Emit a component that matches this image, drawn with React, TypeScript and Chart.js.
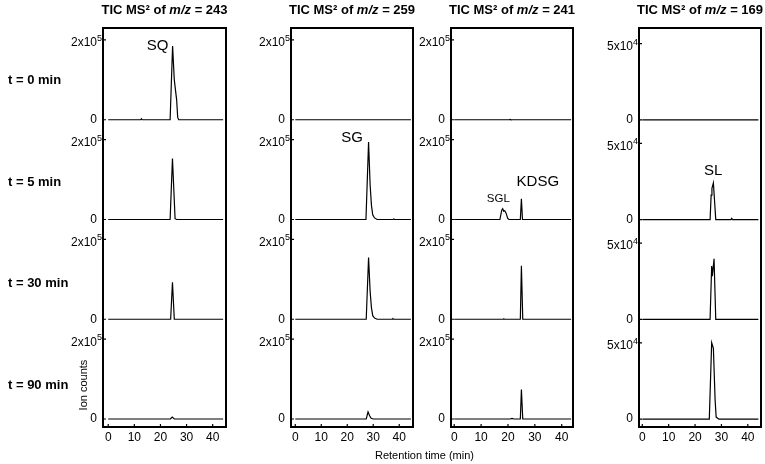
import React, { useEffect, useRef } from 'react';
import { Chart, registerables } from 'chart.js';

Chart.register(...registerables);

const FONT = '"Liberation Sans", Arial, "DejaVu Sans", sans-serif';

// ---- labels ----
const rowLabels = ['t = 0 min', 't = 5 min', 't = 30 min', 't = 90 min'];
const mzValues = ['243', '259', '241', '169'];
const xTicks = [0, 10, 20, 30, 40];
const yTopValues = [200000, 200000, 200000, 50000];
const yTopBases = ['2x10', '2x10', '2x10', '5x10'];
const yTopExps = ['5', '5', '5', '4'];

// ---- m/z 243 (SQ) ----
const t243_0 = [0, 12.4, 12.7, 13.0, 23.7, 24.65, 25.3, 26.2, 26.6, 27.0, 44];
const i243_0 = [0, 0, 2500, 0, 0, 185000, 100000, 50000, 6000, 0, 0];
const t243_1 = [0, 23.7, 24.6, 25.6, 26.2, 44];
const i243_1 = [0, 0, 153000, 2000, 0, 0];
const t243_2 = [0, 23.9, 24.6, 25.3, 44];
const i243_2 = [0, 0, 93000, 0, 0];
const t243_3 = [0, 23.8, 24.5, 25.3, 44];
const i243_3 = [0, 0, 5000, 0, 0];

// ---- m/z 259 (SG) ----
const t259_0 = [0, 44.5];
const i259_0 = [0, 0];
const t259_1 = [0, 27.2, 28.2, 28.8, 29.3, 29.8, 30.5, 31.5, 37.6, 37.9, 38.2, 44.5];
const i259_1 = [0, 0, 194000, 87000, 36000, 12000, 4000, 0, 0, 1500, 0, 0];
const t259_2 = [0, 27.3, 28.2, 28.8, 29.3, 29.8, 30.5, 31.5, 37.3, 37.6, 37.9, 44.5];
const i259_2 = [0, 0, 155000, 70000, 29000, 9000, 3000, 0, 0, 1500, 0, 0];
const t259_3 = [0, 27.3, 28.0, 28.6, 29.2, 30.0, 44.5];
const i259_3 = [0, 0, 18000, 8000, 2000, 0, 0];

// ---- m/z 241 (SGL, KDSG) ----
const t241_0 = [0, 20.5, 20.8, 21.1, 43.5];
const i241_0 = [0, 0, 1000, 0, 0];
const t241_1 = [0, 17.0, 17.7, 18.05, 18.4, 18.8, 19.3, 19.9, 20.4, 24.6, 25.0, 25.4, 43.5];
const i241_1 = [0, 0, 24000, 27000, 21000, 22000, 16000, 3000, 0, 0, 52000, 0, 0];
const t241_2 = [0, 18.2, 18.5, 18.8, 24.6, 25.0, 25.5, 43.5];
const i241_2 = [0, 0, 800, 0, 0, 134000, 0, 0];
const t241_3 = [0, 20.8, 21.5, 22.2, 24.6, 25.0, 25.5, 43.5];
const i241_3 = [0, 0, 1500, 0, 0, 74000, 0, 0];

// ---- m/z 169 (SL) ----
const t169_0 = [0, 44];
const i169_0 = [0, 0];
const t169_1 = [0, 25.7, 26.1, 26.4, 26.95, 27.4, 27.85, 33.6, 33.9, 34.2, 44];
const i169_1 = [0, 0, 16000, 20500, 24000, 12000, 0, 0, 800, 0, 0];
const t169_2 = [0, 25.7, 26.3, 26.55, 27.2, 27.85, 44];
const i169_2 = [0, 0, 34900, 28300, 39700, 0, 0];
const t169_3 = [0, 25.4, 26.3, 26.95, 27.6, 28.0, 28.6, 29.0, 44];
const i169_3 = [0, 0, 50100, 46400, 12600, 1300, 500, 0, 0];

// ---- peak annotations ----
const peakNames = ['SQ', 'SG', 'SGL', 'KDSG', 'SL'];
const peakCols = [0, 1, 2, 2, 3];
const peakRows = [0, 1, 1, 1, 1];
const peakTimes = [18.9, 21.9, 16.4, 31.1, 26.9];
const peakLevels = [186000, 205000, 52000, 94000, 32200];
const peakFontSizes = [15, 15, 11.5, 15, 15];

const columnSeries = [
  [[t243_0, i243_0], [t243_1, i243_1], [t243_2, i243_2], [t243_3, i243_3]],
  [[t259_0, i259_0], [t259_1, i259_1], [t259_2, i259_2], [t259_3, i259_3]],
  [[t241_0, i241_0], [t241_1, i241_1], [t241_2, i241_2], [t241_3, i241_3]],
  [[t169_0, i169_0], [t169_1, i169_1], [t169_2, i169_2], [t169_3, i169_3]],
];

// ---- layout (pixels) ----
const boxLefts = [103, 291, 451, 639];
const boxWidths = [123, 122, 122, 122];
const xMins = [-2.0, -1.65, -1.2, -1.25];
const xMaxs = [45.1, 45.3, 44.2, 45.0];
const yMins = [-20000, -20000, -20000, -5200];
const yMaxs = [230000, 230000, 230000, 60200];
const AXIS_W = 45;
const PAD_R = 4;
const TOP = 28;
const H = 464;
const XAXIS_H = 37;

function ColumnChart({ col }: { col: number }) {
  const ref = useRef<HTMLCanvasElement>(null);
  useEffect(() => {
    const canvas = ref.current;
    if (!canvas) return;
    const scales: any = {
      x: {
        type: 'linear',
        min: xMins[col],
        max: xMaxs[col],
        grid: { display: false, drawTicks: false },
        border: { display: false },
        ticks: {
          color: '#000',
          font: { family: FONT, size: 12 },
          padding: 3,
          maxRotation: 0,
          autoSkip: false,
        },
        afterBuildTicks: (s: any) => {
          s.ticks = xTicks.map((v) => ({ value: v }));
        },
        afterFit: (s: any) => {
          s.height = XAXIS_H;
        },
      },
    };
    // stacked y axes: the first one defined is placed at the bottom,
    // so define them from the last row (bottom) to the first row (top)
    for (let r = 3; r >= 0; r--) {
      scales['y' + r] = {
        type: 'linear',
        position: 'left',
        stack: 'rows',
        stackWeight: 1,
        offset: false,
        min: yMins[col],
        max: yMaxs[col],
        grid: { display: false, drawTicks: false },
        border: { display: false },
        ticks: { display: false },
        afterBuildTicks: (s: any) => {
          s.ticks = [{ value: 0 }, { value: yTopValues[col] }];
        },
        afterFit: (s: any) => {
          s.width = AXIS_W;
        },
      };
    }
    const datasets = columnSeries[col].map(([ts, vs], r) => ({
      data: ts.map((t, k) => ({ x: t, y: vs[k] })),
      yAxisID: 'y' + r,
      borderColor: '#000',
      borderWidth: 1.2,
      pointRadius: 0,
      tension: 0,
      fill: false,
    }));
    const framePlugin = {
      id: 'frame' + col,
      afterDraw(chart: any) {
        const { ctx, chartArea: a } = chart;
        ctx.save();
        ctx.strokeStyle = '#000';
        ctx.fillStyle = '#000';
        ctx.lineWidth = 1.2;
        ctx.beginPath();
        for (let r = 0; r < 4; r++) {
          const s = chart.scales['y' + r];
          for (const tk of s.ticks) {
            const y = s.getPixelForValue(tk.value);
            ctx.moveTo(a.left, y);
            ctx.lineTo(a.left + 3, y);
          }
        }
        const xs = chart.scales.x;
        for (const tk of xs.ticks) {
          const x = xs.getPixelForValue(tk.value);
          ctx.moveTo(x, a.bottom);
          ctx.lineTo(x, a.bottom - 3);
        }
        ctx.stroke();
        ctx.lineWidth = 2;
        ctx.strokeRect(a.left, a.top, a.right - a.left, a.bottom - a.top);
        // y tick labels with superscript exponent
        ctx.textBaseline = 'middle';
        for (let r = 0; r < 4; r++) {
          const s = chart.scales['y' + r];
          const y0 = s.getPixelForValue(0);
          const yt = s.getPixelForValue(yTopValues[col]);
          ctx.textAlign = 'right';
          ctx.font = `12px ${FONT}`;
          ctx.fillText('0', a.left - 6, y0);
          ctx.font = `9px ${FONT}`;
          const supW = ctx.measureText(yTopExps[col]).width;
          const xEnd = a.left - 1;
          ctx.textAlign = 'left';
          ctx.fillText(yTopExps[col], xEnd - supW, yt - 1.5);
          ctx.textAlign = 'right';
          ctx.font = `12px ${FONT}`;
          ctx.fillText(yTopBases[col], xEnd - supW, yt + 3);
        }
        // peak labels
        ctx.textAlign = 'center';
        ctx.textBaseline = 'middle';
        for (let k = 0; k < peakNames.length; k++) {
          if (peakCols[k] !== col) continue;
          const ys = chart.scales['y' + peakRows[k]];
          ctx.font = `${peakFontSizes[k]}px ${FONT}`;
          ctx.fillText(peakNames[k], xs.getPixelForValue(peakTimes[k]), ys.getPixelForValue(peakLevels[k]));
        }
        ctx.restore();
      },
    };
    const chart = new Chart(canvas, {
      type: 'line',
      data: { datasets },
      options: {
        animation: false,
        responsive: false,
        maintainAspectRatio: false,
        layout: { padding: { top: TOP, right: PAD_R, left: 0, bottom: 0 } },
        plugins: { legend: { display: false }, tooltip: { enabled: false }, title: { display: false } },
        scales,
      },
      plugins: [framePlugin],
    } as any);
    return () => chart.destroy();
  }, [col]);
  const w = AXIS_W + boxWidths[col] + PAD_R;
  return (
    <canvas
      ref={ref}
      width={w}
      height={H}
      style={{ position: 'absolute', left: boxLefts[col] - AXIS_W, top: 0, width: w, height: H }}
    />
  );
}

const rowLabelYs = [79, 181, 282, 384];

export default function App() {
  return (
    <div
      style={{
        position: 'absolute',
        left: 0,
        top: 0,
        width: 765,
        height: 464,
        background: '#fff',
        fontFamily: FONT,
        color: '#000',
        overflow: 'hidden',
      }}
    >
      {[0, 1, 2, 3].map((c) => (
        <ColumnChart key={c} col={c} />
      ))}
      {mzValues.map((mz, c) => (
        <div
          key={'t' + c}
          style={{
            position: 'absolute',
            left: boxLefts[c] + boxWidths[c] / 2 - 100,
            width: 200,
            top: 2,
            lineHeight: '15px',
            fontSize: 13,
            fontWeight: 'bold',
            textAlign: 'center',
            whiteSpace: 'nowrap',
          }}
        >
          TIC MS² of <i>m/z</i> = {mz}
        </div>
      ))}
      {rowLabels.map((lab, r) => (
        <div
          key={'r' + r}
          style={{
            position: 'absolute',
            left: 8,
            top: rowLabelYs[r] - 7.5,
            lineHeight: '15px',
            fontSize: 13,
            fontWeight: 'bold',
            whiteSpace: 'nowrap',
          }}
        >
          {lab}
        </div>
      ))}
      <div
        style={{
          position: 'absolute',
          left: 83 - 40,
          top: 385 - 7,
          width: 80,
          height: 14,
          lineHeight: '14px',
          fontSize: 11,
          textAlign: 'center',
          transform: 'rotate(-90deg)',
          whiteSpace: 'nowrap',
        }}
      >
        Ion counts
      </div>
      <div
        style={{
          position: 'absolute',
          left: 424.5 - 80,
          top: 455 - 7,
          width: 160,
          lineHeight: '14px',
          fontSize: 11,
          textAlign: 'center',
          whiteSpace: 'nowrap',
        }}
      >
        Retention time (min)
      </div>
    </div>
  );
}
